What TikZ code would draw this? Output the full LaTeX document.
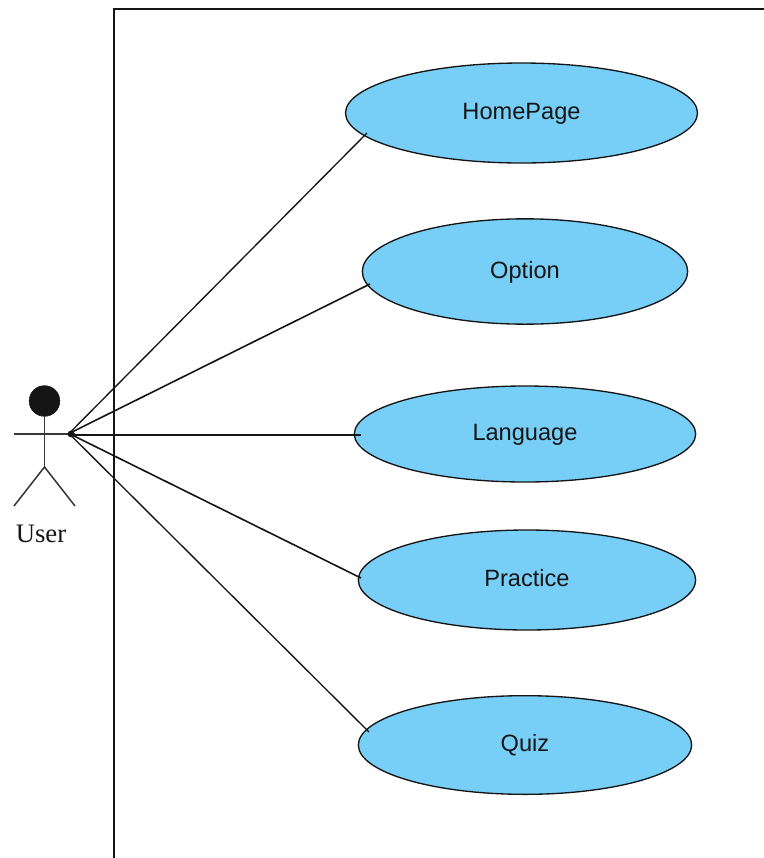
\documentclass[tikz,border=0pt]{standalone}
\usepackage{fontspec}
\setmainfont{Liberation Sans}
\newfontfamily\serifl{Liberation Serif}
\usetikzlibrary{shapes.geometric}
\definecolor{ucblue}{HTML}{77CEF6}
\definecolor{ink}{HTML}{151515}
\tikzset{
  x=0.75pt,y=-0.75pt,
  usecase/.style={ellipse,draw=ink,fill=ucblue,line width=1pt,inner sep=0pt,font=\fontsize{17.7}{19}\selectfont,text=ink,text height=13pt,text depth=3.25pt},
  link/.style={draw=ink,line width=1pt},
  actorline/.style={draw=ink!85!white,line width=1.15pt}
}
\begin{document}
\begin{tikzpicture}
\useasboundingbox (0,0) rectangle (764,858);
\fill[white] (0,0) rectangle (764,858);
\draw[link,line width=1.2pt] (114,858) -- (114,9) -- (764,9);
\node[usecase,minimum width=264pt,minimum height=75pt] (home) at (521.5,113) {HomePage\hspace{3pt}};
\node[usecase,minimum width=244pt,minimum height=79pt] (option) at (525,271.5) {Option};
\node[usecase,minimum width=256pt,minimum height=72pt] (lang) at (525,434) {Language};
\node[usecase,minimum width=253pt,minimum height=75pt] (prac) at (527,580) {Practice};
\node[usecase,minimum width=250pt,minimum height=74pt] (quiz) at (525,745) {Quiz};
\coordinate (hand) at (69,433.5);
\coordinate (handb) at (71,435);
\coordinate (homeend) at (367,133);
\coordinate (optionend) at (370,284);
\coordinate (langend) at (361,435);
\coordinate (pracend) at (361,578);
\coordinate (quizend) at (369,732);
\node[circle,fill=ink,draw=ink,minimum size=23pt,inner sep=0pt] (head) at (44.5,401) {};
\coordinate (hip) at (44.5,467);
\coordinate (lh) at (14,434);
\coordinate (rh) at (75,434);
\coordinate (lf) at (14,506);
\coordinate (rf) at (75,506);
\draw[actorline] (head.south) -- (hip);
\draw[actorline,line width=1.5pt] (lh) -- (rh);
\draw[actorline] (lf) -- (hip) -- (rf);
\node[font=\serifl\fontsize{20}{22}\selectfont,text=ink] (user) at (41,534) {User};
\fill[ink] (handb) ++(0,-1) circle (3.4);
\draw[link] (hand) -- (homeend);
\draw[link,line width=1.2pt] (hand) -- (optionend);
\draw[link,line width=1.4pt] (handb) -- (langend);
\draw[link,line width=1.2pt] (hand) -- (pracend);
\draw[link] (hand) -- (quizend);
\end{tikzpicture}
\end{document}
